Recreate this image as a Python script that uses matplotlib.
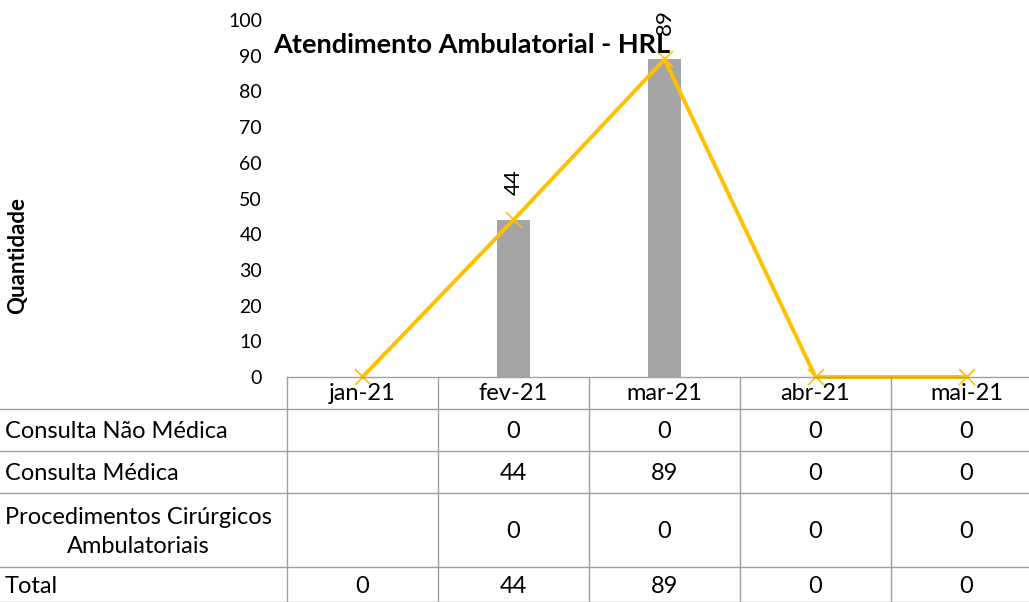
import matplotlib
matplotlib.use("Agg")
import matplotlib.pyplot as plt
import numpy as np

plt.rcParams['font.family'] = ['Lato', 'DejaVu Sans']

# data
months = ["jan-21", "fev-21", "mar-21", "abr-21", "mai-21"]
nao_medica = [None, 0, 0, 0, 0]
medica = [None, 44, 89, 0, 0]
procedimentos = [None, 0, 0, 0, 0]
total = [0, 44, 89, 0, 0]
row_names = ["Consulta Não Médica", "Consulta Médica",
             "Procedimentos Cirúrgicos\nAmbulatoriais", "Total"]
rows = [nao_medica, medica, procedimentos, total]

W, H = 1029, 602
fig = plt.figure(figsize=(W / 100, H / 100), dpi=100)

# plot area in pixels: left 287, top 20, bottom 377, column width 151
px_left, px_top, px_bot, col_w = 287, 20, 377, 151
ax = fig.add_axes([px_left / W, (H - px_bot) / H,
                   col_w * 5 / W, (px_bot - px_top) / H])

x = np.arange(len(months))
bar_w = 0.22
gray = "#A5A5A5"
gold = "#FFC000"
table_fs = 17

def _vals(s):
    return [0 if v is None else v for v in s]

ax.bar(x - bar_w, _vals(nao_medica), bar_w, color="#4472C4", linewidth=0)
ax.bar(x, _vals(medica), bar_w, color=gray, linewidth=0)
ax.bar(x + bar_w, _vals(procedimentos), bar_w, color="#5B9BD5", linewidth=0)

ax.plot(x, total, color=gold, lw=2.8, marker="x", ms=12, mew=1.2,
        clip_on=False, zorder=5)

for xi, v in zip(x, total):
    if v > 0:
        ax.annotate(str(v), (xi, v), xytext=(0, 27), textcoords="offset points",
                    rotation=90, ha="center", va="center", fontsize=16)

ax.set_xlim(-0.5, len(months) - 0.5)
ax.set_ylim(0, 100)
ax.set_yticks(range(0, 101, 10))
ax.tick_params(axis="y", length=0, pad=18, labelsize=14)
ax.set_xticks([])
for s in ax.spines.values():
    s.set_visible(False)

fig.text(472 / W, 1 - 45 / H, "Atendimento Ambulatorial - HRL",
         fontsize=19.5, fontweight="bold", ha="center", va="center")
fig.text(18 / W, 1 - 255 / H, "Quantidade", rotation=90, fontsize=16,
         fontweight="bold", ha="center", va="center")

# data table below the plot
line_c = "#A0A0A0"
row_edges = [377, 409, 451, 493, 567, 602]

def fy(py):
    return 1 - py / H

fig.add_artist(plt.Line2D([px_left / W, 1.05], [fy(377), fy(377)],
                          color=line_c, lw=1))
for yy in row_edges[1:]:
    fig.add_artist(plt.Line2D([0, 1.05], [fy(yy), fy(yy)], color=line_c, lw=1))
for i in range(len(months) + 1):
    xx = (px_left + i * col_w) / W
    fig.add_artist(plt.Line2D([xx, xx], [fy(377), fy(602)], color=line_c, lw=1))

for xi, m in zip(x, months):
    fig.text((px_left + (xi + 0.5) * col_w) / W, fy(394), m,
             ha="center", va="center", fontsize=table_fs)

for r, (name, vals) in enumerate(zip(row_names, rows)):
    yc = fy((row_edges[r + 1] + row_edges[r + 2]) / 2 + 2)
    fig.text(5 / W, yc, name, ha="left", va="center", fontsize=table_fs,
             multialignment="center", linespacing=1.45)
    for xi, v in zip(x, vals):
        if v is not None:
            fig.text((px_left + (xi + 0.5) * col_w) / W, yc, str(v),
                     ha="center", va="center", fontsize=table_fs)

fig.savefig("out.png", dpi=100)
